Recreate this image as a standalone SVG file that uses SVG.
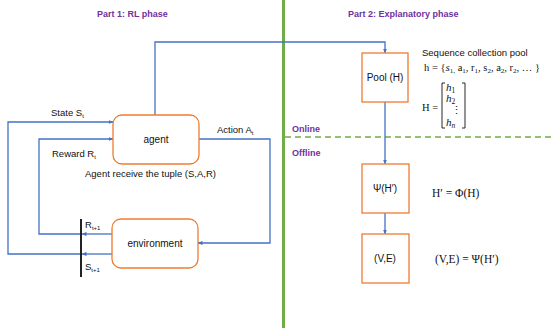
<svg xmlns="http://www.w3.org/2000/svg" width="551" height="328" viewBox="0 0 551 328">
<style>
.t{font-family:"Liberation Sans",Arial,sans-serif;font-size:9.5px;fill:#111}
.n{font-family:"Liberation Sans",Arial,sans-serif;font-size:10px;fill:#111}
.title{font-family:"Liberation Sans",Arial,sans-serif;font-size:9px;font-weight:bold;fill:#7030A0}
.m{font-family:"Liberation Serif","Times New Roman",serif;font-size:10.5px;fill:#111}
.mi{font-family:"Liberation Serif","Times New Roman",serif;font-size:11px;font-style:italic;fill:#111}
.box{fill:#fff;stroke:#ED7D31;stroke-width:1.3}
.c{fill:none;stroke:#4472C4;stroke-width:1.3}
</style>
<defs>
<marker id="a" viewBox="0 0 10 10" refX="9" refY="5" markerWidth="5" markerHeight="5" orient="auto" markerUnits="userSpaceOnUse">
<path d="M0,1 L10,5 L0,9 z" fill="#4472C4"/>
</marker>
</defs>
<rect width="551" height="328" fill="#fff"/>
<text class="title" x="97" y="17">Part 1: RL phase</text>
<text class="title" x="348" y="17">Part 2: Explanatory phase</text>
<line x1="283.5" y1="0" x2="283.5" y2="328" stroke="#70AD47" stroke-width="3"/>
<line x1="285" y1="137" x2="551" y2="137" stroke="#70AD47" stroke-width="1.3" stroke-dasharray="6,4"/>
<text class="title" x="292" y="132">Online</text>
<text class="title" x="292" y="156">Offline</text>
<g id="connectors">
<path class="c" d="M155,115 V42 H385 V53" marker-end="url(#a)"/>
<path class="c" d="M112,254 H82" marker-end="url(#a)"/>
<path class="c" d="M82,254 H8 V122 H113" marker-end="url(#a)"/>
<path class="c" d="M112,234 H82" marker-end="url(#a)"/>
<path class="c" d="M82,234 H39 V139 H113" marker-end="url(#a)"/>
<path class="c" d="M199,139 H270 V243 H198" marker-end="url(#a)"/>
<path class="c" d="M385,102 V164" marker-end="url(#a)"/>
<path class="c" d="M385,213 V234" marker-end="url(#a)"/>
</g>
<line x1="81" y1="219" x2="81" y2="277" stroke="#222" stroke-width="2"/>
<g id="agent">
<rect class="box" x="113" y="115" width="86" height="49" rx="9"/>
<text class="n" x="156" y="143" text-anchor="middle">agent</text>
</g>
<g id="environment">
<rect class="box" x="112" y="219" width="86" height="49" rx="9"/>
<text class="n" x="155" y="247" text-anchor="middle">environment</text>
</g>
<g id="pool">
<rect class="box" x="362" y="53" width="46" height="49"/>
<text class="n" x="385" y="81" text-anchor="middle">Pool (H)</text>
</g>
<g id="psi">
<rect class="box" x="362" y="164" width="47" height="49"/>
<text class="n" x="385" y="192" text-anchor="middle">Ψ(H′)</text>
</g>
<g id="ve">
<rect class="box" x="362" y="234" width="47" height="49"/>
<text class="n" x="385" y="262" text-anchor="middle">(V,E)</text>
</g>
<text class="t" x="51" y="116">State S<tspan font-size="6" dy="2">t</tspan></text>
<text class="t" x="52" y="157">Reward R<tspan font-size="6" dy="2">t</tspan></text>
<text class="t" x="217" y="133">Action A<tspan font-size="6" dy="2">t</tspan></text>
<text class="t" x="85" y="228">R<tspan font-size="6" dy="2">t+1</tspan></text>
<text class="t" x="85" y="270">S<tspan font-size="6" dy="2">t+1</tspan></text>
<text class="t" x="85" y="177">Agent receive the tuple (S,A,R)</text>
<text class="t" x="422" y="56">Sequence collection pool</text>
<text class="m" x="424" y="71">h = {<tspan class="mi">s</tspan><tspan font-size="7" dy="2">1,</tspan><tspan dy="-2"> a</tspan><tspan font-size="7" dy="2">1</tspan><tspan dy="-2">, r</tspan><tspan font-size="7" dy="2">1</tspan><tspan dy="-2">, s</tspan><tspan font-size="7" dy="2">2</tspan><tspan dy="-2">, a</tspan><tspan font-size="7" dy="2">2</tspan><tspan dy="-2">, r</tspan><tspan font-size="7" dy="2">2</tspan><tspan dy="-2">, … }</tspan></text>
<text class="m" x="422" y="111">H =</text>
<path d="M445,83 H442 V128 H445 M462,83 H465 V128 H462" fill="none" stroke="#111" stroke-width="0.9"/>
<text class="mi" x="446" y="91">h<tspan font-style="normal" font-size="7.5" dy="2">1</tspan></text>
<text class="mi" x="446" y="102">h<tspan font-style="normal" font-size="7.5" dy="2">2</tspan></text>
<text class="m" x="451" y="114">⋮</text>
<text class="mi" x="446" y="126">h<tspan font-size="7.5" dy="2">n</tspan></text>
<text class="m" x="432" y="197" style="font-size:11.5px">H′ = Φ(H)</text>
<text class="m" x="435" y="263" style="font-size:11.5px">(V,E) = Ψ(H′)</text>
</svg>
